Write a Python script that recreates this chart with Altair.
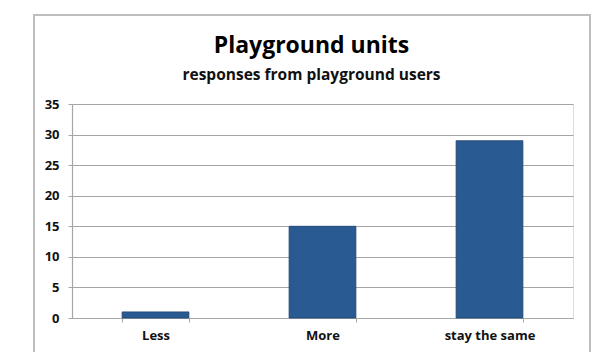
import altair as alt
import pandas as pd

# Survey responses about the number of playground units
categories = ["Less", "More", "stay the same"]
responses = [1, 15, 29]
y_ticks = [0, 5, 10, 15, 20, 25, 30, 35]

df = pd.DataFrame({"answer": categories, "count": responses})

FONT = "Open Sans"
GRID = "#a6a6a6"

bars = alt.Chart(df).mark_bar(color="#2a5a92", stroke="#1f4472", strokeWidth=0.8).encode(
    x=alt.X(
        "answer:N",
        sort=categories,
        scale=alt.Scale(paddingInner=0.6, paddingOuter=0.3),
        axis=alt.Axis(
            title=None, labelAngle=0, labelFont=FONT, labelFontSize=13,
            labelFontWeight="bold", labelColor="#111111", labelPadding=7,
            tickBand="extent", tickSize=4, tickColor=GRID, domainColor=GRID,
            domainWidth=1.2, grid=False,
        ),
    ),
    y=alt.Y(
        "count:Q",
        scale=alt.Scale(domain=[0, 35], nice=False),
        axis=alt.Axis(
            title=None, values=y_ticks, labelFont=FONT, labelFontSize=13,
            labelFontWeight="bold", labelColor="#111111", labelPadding=9,
            tickSize=4, tickColor=GRID, domainColor=GRID, domainWidth=1.2,
            gridColor=GRID, gridWidth=1.2,
        ),
    ),
)

# Outer chart-area border
frame = alt.Chart(df).mark_rect(fill=None, stroke="#bdbdbd", strokeWidth=1.5).encode(
    x=alt.value(-38), x2=alt.value(518), y=alt.value(-89), y2=alt.value(260)
)

chart = (
    alt.layer(frame, bars)
    .properties(
        width=501,
        height=214,
        padding={"left": 72, "top": 104, "right": 19, "bottom": 34},
        autosize=alt.AutoSizeParams(type="none"),
        title=alt.TitleParams(
            text="Playground units",
            subtitle="responses from playground users",
            font=FONT, fontSize=23, fontWeight="bold", color="#000000",
            subtitleFont=FONT, subtitleFontSize=15.5, subtitleFontWeight="bold",
            subtitleColor="#111111", subtitlePadding=10,
            anchor="middle", frame="group", dx=-11, dy=89, offset=20,
        ),
    )
    .configure_view(stroke=None)
    .configure(background="white")
)

chart.save("out.html", embed_options={"renderer": "svg", "actions": False})
